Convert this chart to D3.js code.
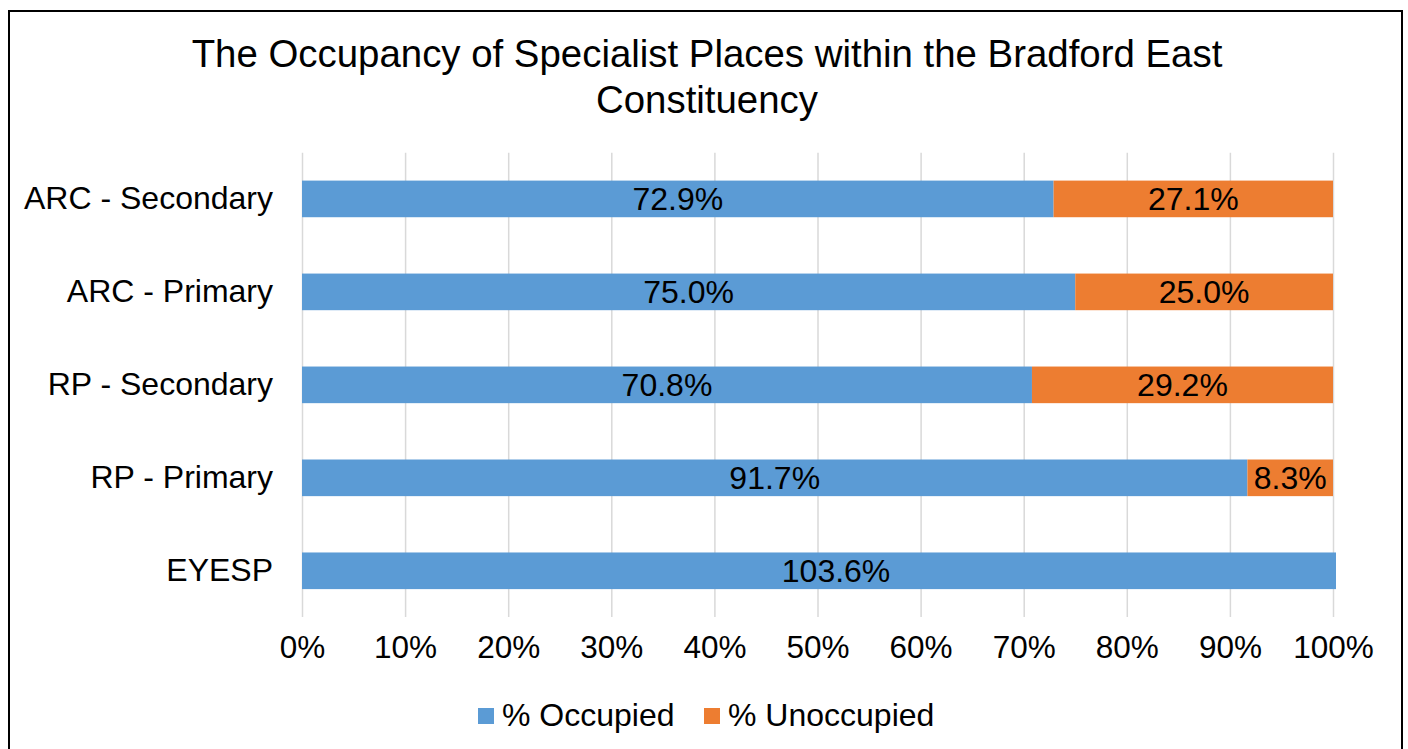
<!DOCTYPE html>
<html>
<head>
<meta charset="utf-8">
<script src="https://cdn.jsdelivr.net/npm/d3@7"></script>
<style>
  html, body { margin: 0; padding: 0; background: #fff; }
  svg text { font-family: Arial, "Liberation Sans", sans-serif; fill: #000; }
</style>
</head>
<body>
<svg id="chart" width="1408" height="749"></svg>
<script>
// data
const categories = ["ARC - Secondary", "ARC - Primary", "RP - Secondary", "RP - Primary", "EYESP"];
const occupied = [72.9, 75.0, 70.8, 91.7, 103.6];
const unoccupied = [27.1, 25.0, 29.2, 8.3, -3.6];
const seriesNames = ["% Occupied", "% Unoccupied"];
const seriesColors = ["#5B9BD5", "#ED7D31"];
const xTicks = [0, 10, 20, 30, 40, 50, 60, 70, 80, 90, 100];
const titleLines = ["The Occupancy of Specialist Places within the Bradford East", "Constituency"];

const svg = d3.select("#chart");
const plot = {left: 302, right: 1333, top: 152.7, bottom: 617};

// outer frame
svg.append("rect")
  .attr("x", 9).attr("y", 11)
  .attr("width", 1393).attr("height", 760)
  .attr("fill", "none")
  .attr("stroke", "#000")
  .attr("stroke-width", 2);

// title
svg.append("g").selectAll("text")
  .data(titleLines)
  .enter().append("text")
  .attr("x", 707)
  .attr("y", (d, i) => 67 + i * 46)
  .attr("text-anchor", "middle")
  .style("font-size", "38.4px")
  .text(d => d);

const x = d3.scaleLinear().domain([0, 100]).range([plot.left, plot.right]);
const y = d3.scaleBand().domain(categories)
  .range([plot.top, plot.bottom])
  .paddingInner(0.606).paddingOuter(0.3);

// gridlines
svg.append("g")
  .attr("class", "grid")
  .attr("transform", "translate(0," + plot.bottom + ")")
  .call(d3.axisBottom(x).tickValues(xTicks).tickSize(-(plot.bottom - plot.top)).tickFormat(""))
  .call(g => g.select(".domain").remove())
  .call(g => g.selectAll("line").attr("stroke", "#d9d9d9").attr("stroke-width", 1.5));

// x tick labels
svg.append("g")
  .attr("transform", "translate(0," + plot.bottom + ")")
  .call(d3.axisBottom(x).tickValues(xTicks).tickSize(0).tickPadding(19).tickFormat(d => d + "%"))
  .call(g => g.select(".domain").remove())
  .call(g => g.selectAll("text").style("font-size", "31.5px").attr("fill", "#000").attr("dy", "0.71em"));

// category labels
svg.append("g")
  .attr("transform", "translate(" + plot.left + ",0)")
  .call(d3.axisLeft(y).tickSize(0).tickPadding(29))
  .call(g => g.select(".domain").remove())
  .call(g => g.selectAll("text").style("font-size", "32px").attr("fill", "#000"));

// clip (bars spill a little past the last gridline, as in the reference)
svg.append("defs").append("clipPath").attr("id", "plotclip")
  .append("rect")
  .attr("x", plot.left).attr("y", plot.top)
  .attr("width", plot.right - plot.left + 3).attr("height", plot.bottom - plot.top);

const rows = categories.map((c, i) => ({cat: c, vals: [occupied[i], unoccupied[i]]}));
const segs = [];
rows.forEach(r => {
  let start = 0;
  r.vals.forEach((v, k) => {
    if (v > 0) {
      segs.push({cat: r.cat, k: k, x0: start, x1: start + v, v: v});
      start += v;
    }
  });
});

svg.append("g").attr("clip-path", "url(#plotclip)")
  .selectAll("rect")
  .data(segs)
  .enter().append("rect")
  .attr("x", d => x(d.x0))
  .attr("y", d => y(d.cat))
  .attr("width", d => x(d.x1) - x(d.x0))
  .attr("height", y.bandwidth())
  .attr("fill", d => seriesColors[d.k]);

svg.append("g").selectAll("text")
  .data(segs)
  .enter().append("text")
  .attr("x", d => x((d.x0 + d.x1) / 2))
  .attr("y", d => y(d.cat) + y.bandwidth() / 2)
  .attr("dy", "0.36em")
  .attr("text-anchor", "middle")
  .style("font-size", "32px")
  .text(d => d.v.toFixed(1) + "%");

// legend
const legendX = [478, 704];
const legend = svg.append("g").selectAll("g")
  .data(seriesNames)
  .enter().append("g")
  .attr("transform", (d, i) => "translate(" + legendX[i] + ",708)");
legend.append("rect")
  .attr("width", 16).attr("height", 16)
  .attr("fill", (d, i) => seriesColors[i]);
legend.append("text")
  .attr("x", 24).attr("y", 18)
  .style("font-size", "32px")
  .text(d => d);
</script>
</body>
</html>
